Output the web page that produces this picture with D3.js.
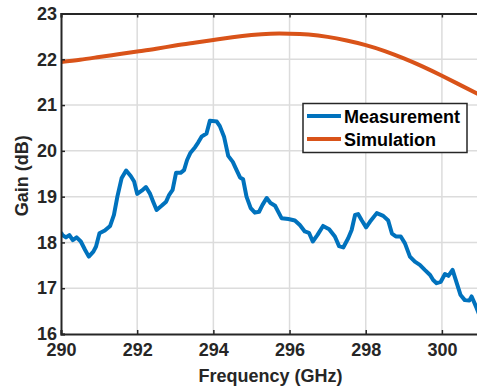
<!DOCTYPE html>
<html>
<head>
<meta charset="utf-8">
<script src="https://cdn.jsdelivr.net/npm/d3@7/dist/d3.min.js"></script>
<style>
  html, body { margin: 0; padding: 0; background: #fff; }
  svg { display: block; }
  text { font-family: Arial, "Liberation Sans", Helvetica, sans-serif; font-weight: bold; fill: #262626; }
</style>
</head>
<body>
<svg id="chart" width="477" height="390"></svg>
<script>
// Measured gain vs frequency
const measFreq = [290.00, 290.04, 290.13, 290.22, 290.31, 290.41, 290.52, 290.63, 290.73, 290.85, 290.92,
  291.01, 291.15, 291.29, 291.39, 291.48, 291.59, 291.71, 291.83, 291.92, 292.00,
  292.12, 292.23, 292.34, 292.42, 292.51, 292.64, 292.76, 292.84, 292.93, 293.02,
  293.14, 293.23, 293.31, 293.40, 293.52, 293.60, 293.69, 293.82, 293.91, 294.09,
  294.17, 294.28, 294.39, 294.51, 294.61, 294.70, 294.78, 294.87, 294.98, 295.09,
  295.20, 295.29, 295.40, 295.50, 295.62, 295.79, 295.97, 296.14, 296.27, 296.40,
  296.51, 296.61, 296.73, 296.88, 297.04, 297.19, 297.30, 297.41, 297.54, 297.63,
  297.72, 297.80, 297.89, 298.01, 298.11, 298.29, 298.46, 298.59, 298.69, 298.79,
  298.92, 299.03, 299.16, 299.29, 299.42, 299.55, 299.69, 299.77, 299.86, 299.97,
  300.08, 300.17, 300.28, 300.39, 300.49, 300.60, 300.72, 300.78, 300.91, 301.00];
const measGain = [18.22, 18.16, 18.11, 18.16, 18.05, 18.11, 18.02, 17.84, 17.69, 17.80, 17.91,
  18.20, 18.26, 18.36, 18.60, 19.00, 19.40, 19.57, 19.45, 19.33, 19.06,
  19.13, 19.21, 19.06, 18.89, 18.71, 18.80, 18.89, 19.04, 19.15, 19.52,
  19.52, 19.58, 19.80, 19.96, 20.08, 20.18, 20.31, 20.38, 20.66, 20.64,
  20.54, 20.31, 19.89, 19.76, 19.58, 19.42, 19.38, 19.00, 18.75, 18.65,
  18.67, 18.82, 18.97, 18.86, 18.80, 18.53, 18.51, 18.48, 18.38, 18.24,
  18.21, 18.02, 18.16, 18.36, 18.29, 18.13, 17.92, 17.89, 18.09, 18.27,
  18.60, 18.62, 18.49, 18.33, 18.45, 18.64, 18.58, 18.48, 18.19, 18.13,
  18.13, 17.98, 17.69, 17.58, 17.51, 17.40, 17.29, 17.18, 17.11, 17.14,
  17.31, 17.27, 17.40, 17.11, 16.85, 16.74, 16.73, 16.82, 16.57, 16.38];

// Simulated gain vs frequency
const simFreq = [290, 290.5, 291, 291.5, 292, 292.5, 293, 293.5, 294, 294.5, 295, 295.5,
  296, 296.5, 297, 297.5, 298, 298.5, 299, 299.5, 300, 300.5, 301];
const simGain = [21.94, 21.99, 22.05, 22.11, 22.17, 22.23, 22.30, 22.36, 22.42, 22.48, 22.53, 22.56,
  22.56, 22.54, 22.49, 22.41, 22.31, 22.18, 22.02, 21.84, 21.64, 21.43, 21.22];

const xTicks = [290, 292, 294, 296, 298, 300];
const yTicks = [16, 17, 18, 19, 20, 21, 22, 23];
const seriesNames = ["Measurement", "Simulation"];
const seriesColors = ["#0072BD", "#D95319"];

const svg = d3.select("#chart");
const plotLeft = 61, plotRight = 480, plotTop = 13.5, plotBottom = 334;
const fontSize = "18px";

const x = d3.scaleLinear().domain([290, 301]).range([plotLeft, plotRight]);
const y = d3.scaleLinear().domain([16, 23]).range([plotBottom, plotTop]);

// grid
const grid = svg.append("g").attr("stroke", "#dcdcdc").attr("stroke-width", 1.5);
grid.selectAll("line.gx").data(xTicks.slice(1)).join("line")
  .attr("x1", d => x(d)).attr("x2", d => x(d)).attr("y1", plotTop).attr("y2", plotBottom);
grid.selectAll("line.gy").data(yTicks.slice(1, -1)).join("line")
  .attr("x1", plotLeft).attr("x2", plotRight).attr("y1", d => y(d)).attr("y2", d => y(d));

// clip region for the curves
svg.append("clipPath").attr("id", "plotClip")
  .append("rect").attr("x", plotLeft).attr("y", plotTop)
  .attr("width", plotRight - plotLeft).attr("height", plotBottom - plotTop);

const plot = svg.append("g").attr("clip-path", "url(#plotClip)");
plot.append("path")
  .datum(simFreq.map((f, i) => [f, simGain[i]]))
  .attr("d", d3.line().x(d => x(d[0])).y(d => y(d[1])).curve(d3.curveNatural))
  .attr("fill", "none")
  .attr("stroke", seriesColors[1]).attr("stroke-width", 4).attr("stroke-linejoin", "round");
plot.append("path")
  .datum(measFreq.map((f, i) => [f, measGain[i]]))
  .attr("d", d3.line().x(d => x(d[0])).y(d => y(d[1])))
  .attr("fill", "none")
  .attr("stroke", seriesColors[0]).attr("stroke-width", 4).attr("stroke-linejoin", "round");

// axes
const xAxis = d3.axisBottom(x).tickValues(xTicks).tickSize(-4).tickPadding(9).tickFormat(d3.format("d"));
const yAxis = d3.axisLeft(y).tickValues(yTicks).tickSize(-4).tickPadding(4).tickFormat(d3.format("d"));
const xTop = d3.axisTop(x).tickValues(xTicks).tickSize(-4).tickFormat("");

function styleAxis(g) {
  g.select(".domain").attr("stroke", "#262626").attr("stroke-width", 2);
  g.selectAll(".tick line").attr("stroke", "#262626").attr("stroke-width", 1.5);
  g.selectAll(".tick text").attr("fill", "#262626").style("font-size", fontSize).style("font-weight", "bold")
    .style("font-family", "Arial, 'Liberation Sans', sans-serif");
}
svg.append("g").attr("transform", `translate(0,${plotBottom})`).call(xAxis).call(styleAxis);
svg.append("g").attr("transform", `translate(${plotLeft},0)`).call(yAxis).call(styleAxis);
svg.append("g").attr("transform", `translate(0,${plotTop})`).call(xTop).call(styleAxis);

// axis titles
svg.append("text").attr("x", (plotLeft + plotRight) / 2).attr("y", 382).attr("text-anchor", "middle")
  .style("font-size", fontSize).text("Frequency (GHz)");
svg.append("text").attr("transform", `translate(28,${(plotTop + plotBottom) / 2 + 2}) rotate(-90)`)
  .attr("text-anchor", "middle").style("font-size", fontSize).text("Gain (dB)");

// legend
const lg = svg.append("g");
lg.append("rect").attr("x", 303).attr("y", 103.5).attr("width", 164).attr("height", 49)
  .attr("fill", "#fff").attr("stroke", "#262626").attr("stroke-width", 1.5);
seriesNames.forEach((name, i) => {
  const ly = 116 + i * 23;
  lg.append("line").attr("x1", 307).attr("x2", 341).attr("y1", ly).attr("y2", ly)
    .attr("stroke", seriesColors[i]).attr("stroke-width", 4);
  lg.append("text").attr("x", 344).attr("y", ly + 7).style("font-size", fontSize)
    .style("fill", "#000").text(name);
});
</script>
</body>
</html>
